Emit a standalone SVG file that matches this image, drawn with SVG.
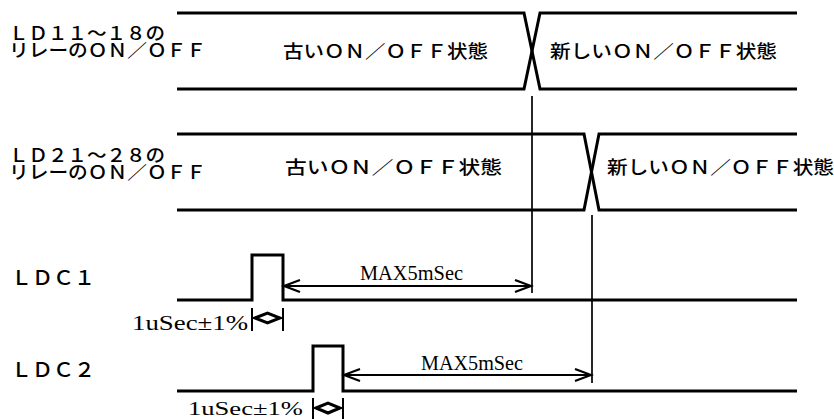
<svg xmlns="http://www.w3.org/2000/svg" width="834" height="419" viewBox="0 0 834 419">
<style>
.sig{fill:none;stroke:#000;stroke-width:3;stroke-linejoin:miter}
.vl{fill:none;stroke:#000;stroke-width:1.7}
.arr{fill:none;stroke:#000;stroke-width:2;marker-start:url(#oa);marker-end:url(#oa)}
.tick{fill:none;stroke:#000;stroke-width:2}
.dia{fill:#fff;stroke:#000;stroke-width:3;stroke-linejoin:miter}
.jp{font-family:"Noto Sans CJK JP","Noto Sans",sans-serif;font-weight:500;fill:#000}
.lat{font-family:"Liberation Serif",serif;fill:#000}
</style>
<defs>
<marker id="oa" markerUnits="userSpaceOnUse" markerWidth="20" markerHeight="16" viewBox="0 0 20 16" refX="17" refY="7" orient="auto-start-reverse">
<path d="M1,1 L17,7 L1,13" fill="none" stroke="#000" stroke-width="2.2"/>
</marker>
</defs>
<rect width="834" height="419" fill="#fff"/>

<g id="ld1x">
<text class="jp" x="9" y="40" font-size="18" textLength="156" lengthAdjust="spacingAndGlyphs">ＬＤ１１～１８の</text>
<text class="jp" x="9" y="57" font-size="18" textLength="197" lengthAdjust="spacingAndGlyphs">リレーのＯＮ／ＯＦＦ</text>
<path class="sig" d="M177,13 H524 L540,89 H797"/>
<path class="sig" d="M177,89 H524 L540,13 H797"/>
<text class="jp" x="283" y="58" font-size="18" textLength="205" lengthAdjust="spacingAndGlyphs">古いＯＮ／ＯＦＦ状態</text>
<text class="jp" x="550" y="58" font-size="18" textLength="227" lengthAdjust="spacingAndGlyphs">新しいＯＮ／ＯＦＦ状態</text>
</g>

<g id="ld2x">
<text class="jp" x="9" y="162" font-size="18" textLength="156" lengthAdjust="spacingAndGlyphs">ＬＤ２１～２８の</text>
<text class="jp" x="9" y="179" font-size="18" textLength="197" lengthAdjust="spacingAndGlyphs">リレーのＯＮ／ＯＦＦ</text>
<path class="sig" d="M177,134 H584 L599,210 H797"/>
<path class="sig" d="M177,210 H584 L599,134 H797"/>
<text class="jp" x="285" y="174" font-size="18" textLength="217" lengthAdjust="spacingAndGlyphs">古いＯＮ／ＯＦＦ状態</text>
<text class="jp" x="607" y="174" font-size="18" textLength="227" lengthAdjust="spacingAndGlyphs">新しいＯＮ／ＯＦＦ状態</text>
</g>

<g id="ldc1">
<text class="jp" x="11" y="285" font-size="20" textLength="84" lengthAdjust="spacingAndGlyphs">ＬＤＣ１</text>
<path class="sig" d="M177,300 H252 V255 H283 V300 H797"/>
</g>

<g id="ldc2">
<text class="jp" x="11" y="377" font-size="20" textLength="84" lengthAdjust="spacingAndGlyphs">ＬＤＣ２</text>
<path class="sig" d="M177,391 H313 V346 H343 V391 H797"/>
</g>

<g id="connectors">
<line class="vl" x1="532" y1="96" x2="532" y2="293"/>
<line class="vl" x1="592" y1="215" x2="592" y2="383"/>
<line class="arr" x1="284" y1="286" x2="531" y2="286"/>
<line class="arr" x1="344" y1="375" x2="591" y2="375"/>
<line class="tick" x1="252" y1="308" x2="252" y2="331"/>
<line class="tick" x1="283" y1="308" x2="283" y2="331"/>
<polygon class="dia" points="255,318 267.5,313 280,318 267.5,323"/>
<line class="tick" x1="313" y1="398" x2="313" y2="419"/>
<line class="tick" x1="343" y1="398" x2="343" y2="419"/>
<polygon class="dia" points="316,408 328,403 340,408 328,413"/>
</g>

<g id="labels">
<text class="lat" x="360" y="280" font-size="20" textLength="103" lengthAdjust="spacingAndGlyphs">MAX5mSec</text>
<text class="lat" x="421" y="370" font-size="20" textLength="102" lengthAdjust="spacingAndGlyphs">MAX5mSec</text>
<text class="lat" x="132" y="330" font-size="20" textLength="116" lengthAdjust="spacingAndGlyphs">1uSec±1%</text>
<text class="lat" x="188" y="415" font-size="19" textLength="115" lengthAdjust="spacingAndGlyphs">1uSec±1%</text>
</g>
</svg>
